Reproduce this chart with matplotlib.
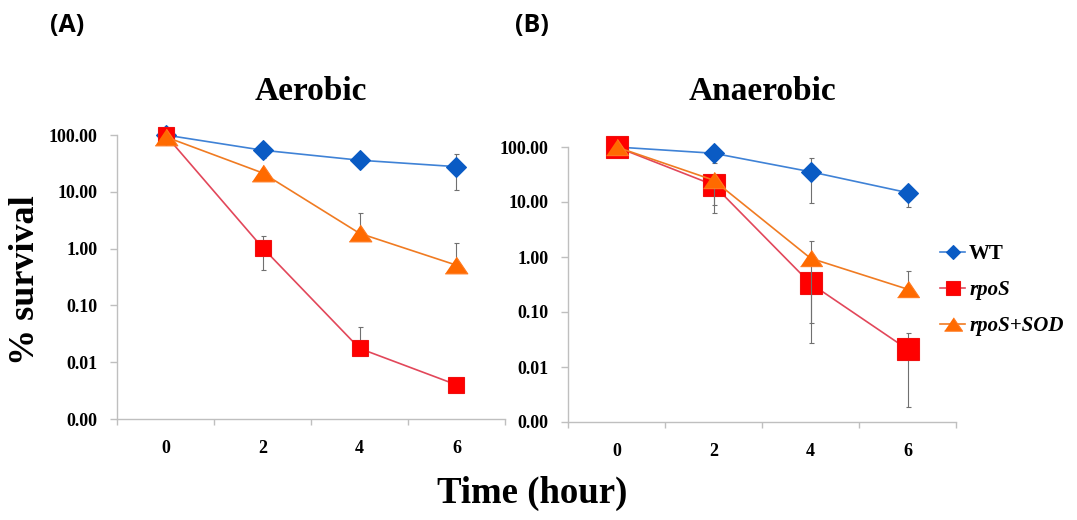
import numpy as np
import matplotlib
matplotlib.use("Agg")
import matplotlib.pyplot as plt
from matplotlib.lines import Line2D
from matplotlib.ticker import FixedLocator, FixedFormatter, NullLocator

# ---------------- data ----------------
categories = ["0", "2", "4", "6"]          # Time (hour)
series_names = ["WT", "rpoS", "rpoS+SOD"]

# Panel A: Aerobic (% survival)
aer_wt = [100, 54, 36, 27.7]
aer_wt_lo = [100, 40, 36, 10.7]
aer_wt_hi = [100, 54, 36, 45.7]
aer_rpos = [100, 1.04, 0.0175, 0.0040]
aer_rpos_lo = [100, 0.42, 0.0175, 0.0040]
aer_rpos_hi = [100, 1.66, 0.041, 0.0040]
aer_sod = [93, 21.5, 1.86, 0.51]
aer_sod_lo = [93, 21.5, 1.86, 0.51]
aer_sod_hi = [93, 21.5, 4.2, 1.25]

# Panel B: Anaerobic (% survival)
ana_wt = [100, 77, 35.5, 14.8]
ana_wt_lo = [100, 51, 9.5, 8.2]
ana_wt_hi = [100, 77, 62, 14.8]
ana_rpos = [100, 20.4, 0.33, 0.021]
ana_rpos_lo = [100, 6.3, 0.027, 0.0019]
ana_rpos_hi = [100, 20.4, 0.33, 0.041]
ana_sod = [100, 25, 0.95, 0.26]
ana_sod_lo = [100, 8.8, 0.063, 0.26]
ana_sod_hi = [100, 25, 1.95, 0.56]

ytick_vals = [0.001, 0.01, 0.1, 1, 10, 100]
ytick_labels = ["0.00", "0.01", "0.10", "1.00", "10.00", "100.00"]

# ---------------- style ----------------
SERIF = "Liberation Serif"
plt.rcParams["font.family"] = [SERIF, "DejaVu Serif"]

tri = [(-1, -0.74), (1, -0.74), (0, 0.74)]
styles = {
    "WT": dict(color="#3F82D6", mfc="#0A5BC4", mec="#0A5BC4", marker="D"),
    "rpoS": dict(color="#E2475A", mfc="#FF0000", mec="#F01010", marker="s"),
    "rpoS+SOD": dict(color="#F07B22", mfc="#FF6A00", mec="#FF7A20", marker=tri),
}
msizes = {
    "A": {"WT": 10.2, "rpoS": 12.0, "rpoS+SOD": 16.3},
    "B": {"WT": 9.7, "rpoS": 16.0, "rpoS+SOD": 15.8},
}
AXIS_GREY = "#BFBFBF"

W, H = 1077, 520
fig = plt.figure(figsize=(W / 100, H / 100), dpi=100)


def px_rect(l, r, top, bot):
    return [l / W, 1 - bot / H, (r - l) / W, (bot - top) / H]


def draw_panel(ax, data, key):
    x = np.arange(len(categories))
    for z, (name, (vals, lo, hi)) in enumerate(zip(series_names, data)):
        vals = np.array(vals, dtype=float)
        yerr = [vals - np.array(lo), np.array(hi) - vals]
        ax.errorbar(x, vals, yerr=yerr, fmt="none", ecolor="#707070",
                    elinewidth=0.8, capsize=1.8, capthick=0.8,
                    zorder=2 + 2 * z, clip_on=False)
        st = styles[name]
        ax.plot(x, vals, color=st["color"], lw=1.2, marker=st["marker"],
                ms=msizes[key][name], mfc=st["mfc"], mec=st["mec"],
                mew=0.8, zorder=3 + 2 * z, clip_on=False)
    ax.set_yscale("log")
    ax.set_ylim(0.001, 100)
    ax.set_xlim(-0.5, len(categories) - 0.5)
    ax.yaxis.set_major_locator(FixedLocator(ytick_vals))
    ax.yaxis.set_major_formatter(FixedFormatter(ytick_labels))
    ax.yaxis.set_minor_locator(NullLocator())
    ax.set_xticks(x)
    ax.set_xticklabels(categories)
    ax.set_xticks(np.arange(len(categories) + 1) - 0.5, minor=True)
    for s in ["top", "right"]:
        ax.spines[s].set_visible(False)
    for s in ["left", "bottom"]:
        ax.spines[s].set_color(AXIS_GREY)
        ax.spines[s].set_linewidth(1.0)
    ax.tick_params(axis="y", which="major", length=5, width=1.0,
                   color=AXIS_GREY, pad=9, labelsize=13)
    ax.tick_params(axis="x", which="major", length=0, pad=15, labelsize=13)
    ax.tick_params(axis="x", which="minor", length=4, width=1.0,
                   color=AXIS_GREY)
    for lab in ax.get_xticklabels() + ax.get_yticklabels():
        lab.set_fontweight("bold")


axA = fig.add_axes(px_rect(117, 505, 135, 419))
draw_panel(axA, [(aer_wt, aer_wt_lo, aer_wt_hi),
                 (aer_rpos, aer_rpos_lo, aer_rpos_hi),
                 (aer_sod, aer_sod_lo, aer_sod_hi)], "A")
axB = fig.add_axes(px_rect(568, 956, 147, 422))
draw_panel(axB, [(ana_wt, ana_wt_lo, ana_wt_hi),
                 (ana_rpos, ana_rpos_lo, ana_rpos_hi),
                 (ana_sod, ana_sod_lo, ana_sod_hi)], "B")

# titles
fig.text(311 / W, 1 - 100 / H, "Aerobic", ha="center", va="baseline",
         fontsize=24, fontweight="bold")
fig.text(762 / W, 1 - 100 / H, "Anaerobic", ha="center", va="baseline",
         fontsize=24, fontweight="bold")
# panel letters
fig.text(67 / W, 1 - 26 / H, "(A)", ha="center", va="center",
         fontsize=18, fontweight="bold", family=["Open Sans", "DejaVu Sans"])
fig.text(532 / W, 1 - 26 / H, "(B)", ha="center", va="center",
         fontsize=18, fontweight="bold", family=["Open Sans", "DejaVu Sans"])
# axis labels
fig.text(25 / W, 1 - 280 / H, "% survival", ha="center", va="center",
         rotation=90, fontsize=26, fontweight="bold")
fig.text(532 / W, 1 - 503 / H, "Time (hour)", ha="center", va="baseline",
         fontsize=26.5, fontweight="bold")

# legend
handles = []
leg_ms = {"WT": 7.5, "rpoS": 9.5, "rpoS+SOD": 13}
for name in series_names:
    st = styles[name]
    handles.append(Line2D([], [], color=st["color"], lw=1.2, marker=st["marker"],
                          ms=leg_ms[name], mfc=st["mfc"], mec=st["mec"], mew=0.8))
leg = fig.legend(handles, series_names, loc="upper left",
                 bbox_to_anchor=(940 / W, 1 - 244 / H), frameon=False,
                 borderpad=0, borderaxespad=0, handlelength=1.2,
                 handletextpad=0.2, labelspacing=0.78,
                 prop={"family": SERIF, "size": 15, "weight": "bold"})
for t in leg.get_texts()[1:]:
    t.set_style("italic")

fig.savefig("out.png", dpi=100)
